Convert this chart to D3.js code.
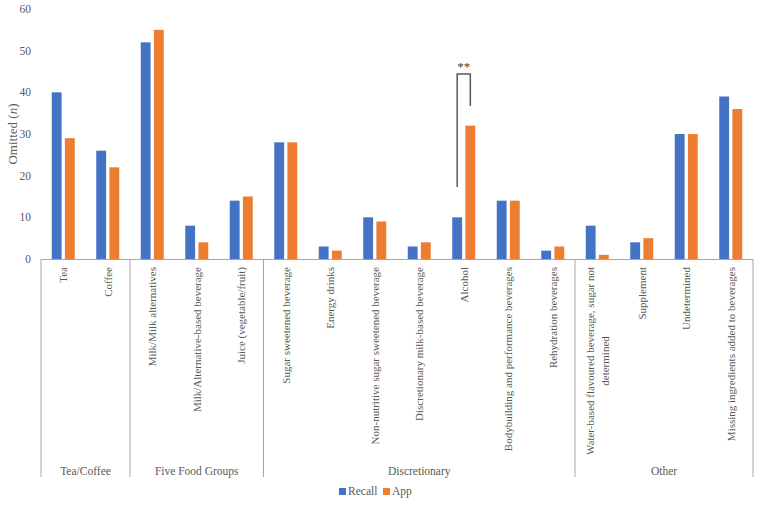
<!DOCTYPE html>
<html><head><meta charset="utf-8">
<script src="https://cdn.jsdelivr.net/npm/d3@7"></script>
<style>body{margin:0;background:#fff}svg{display:block}</style>
</head><body>
<svg id="c" width="762" height="505"></svg>
<script>
const categories = ["Tea","Coffee","Milk/Milk alternatives","Milk/Alternative-based beverage","Juice (vegetable/fruit)","Sugar sweetened beverage","Energy drinks","Non-nutritive sugar sweetened beverage","Discretionary milk-based beverage","Alcohol","Bodybuilding and performance beverages","Rehydration beverages","Water-based flavoured beverage, sugar not determined","Supplement","Undetermined","Missing ingredients added to beverages"];
const groups = ["Tea/Coffee","Tea/Coffee","Five Food Groups","Five Food Groups","Five Food Groups","Discretionary","Discretionary","Discretionary","Discretionary","Discretionary","Discretionary","Discretionary","Other","Other","Other","Other"];
const recall = [40,26,52,8,14,28,3,10,3,10,14,2,8,4,30,39];
const app = [29,22,55,4,15,28,2,9,4,32,14,3,1,5,30,36];
const seriesNames = ["Recall","App"];
const yTicks = [0,10,20,30,40,50,60];
// significance bracket (Alcohol): left foot, top, right foot in data units
const sigCategory = "Alcohol";
const sigLeft = 17.3, sigTop = 44.4, sigRight = 36.7, sigLabel = "**";

const colors = ["#4472C4","#ED7D31"];
const font = "'Liberation Serif', serif";
const svg = d3.select("#c");
const L = 41, R = 753, T = 9, B = 259;
const x = d3.scaleBand().domain(categories).range([L, R]);
const y = d3.scaleLinear().domain([0,60]).range([B, T]);
const xs = d3.scaleBand().domain(seriesNames).range([0, 23]).paddingInner(0.25);
const off = (x.bandwidth() - 23) / 2;

// y ticks
svg.append("g").selectAll("text").data(yTicks).join("text")
  .attr("x", 31).attr("y", d => y(d)).attr("dy", "0.35em")
  .attr("text-anchor", "end").attr("font-family", font).attr("font-size", 11.5)
  .attr("fill", "#595959").text(d => d);

// axis title
const at = svg.append("text").attr("transform", `translate(17,${(T+B)/2}) rotate(-90)`)
  .attr("text-anchor", "middle").attr("font-family", font).attr("font-size", 13).attr("fill", "#595959");
at.append("tspan").text("Omitted (");
at.append("tspan").attr("font-style", "italic").text("n");
at.append("tspan").text(")");

// bars
const vals = [recall, app];
seriesNames.forEach((s, si) => {
  svg.append("g").selectAll("rect").data(categories).join("rect")
    .attr("x", d => x(d) + off + xs(s)).attr("width", xs.bandwidth())
    .attr("y", (d, i) => y(vals[si][i])).attr("height", (d, i) => y(0) - y(vals[si][i]))
    .attr("fill", colors[si]);
});

// axis line
svg.append("line").attr("x1", L).attr("x2", R).attr("y1", B + 0.5).attr("y2", B + 0.5)
  .attr("stroke", "#A6A6A6").attr("stroke-width", 1);

// group dividers
const bottom = 477;
const boundaries = [0];
groups.forEach((g, i) => { if (i > 0 && g !== groups[i-1]) boundaries.push(i); });
boundaries.push(categories.length);
svg.append("g").selectAll("line").data(boundaries).join("line")
  .attr("x1", i => i < categories.length ? x(categories[i]) : R)
  .attr("x2", i => i < categories.length ? x(categories[i]) : R)
  .attr("y1", B).attr("y2", bottom).attr("stroke", "#A6A6A6").attr("stroke-width", 1);

// group labels
const groupNames = [...new Set(groups)];
svg.append("g").selectAll("text").data(groupNames).join("text")
  .attr("x", g => {
    const idx = groups.map((d,i)=>d===g?i:-1).filter(i=>i>=0);
    return (x(categories[idx[0]]) + x(categories[idx[idx.length-1]]) + x.bandwidth()) / 2;
  })
  .attr("y", 475).attr("text-anchor", "middle").attr("font-family", font)
  .attr("font-size", 11.5).attr("fill", "#595959").text(g => g);

// category labels
const wrap = {"Water-based flavoured beverage, sugar not determined": ["Water-based flavoured beverage, sugar not", "determined"]};
categories.forEach(c => {
  const lines = wrap[c] || [c];
  const cx = x(c) + x.bandwidth() / 2;
  const t = svg.append("text").attr("transform", `translate(${cx},267) rotate(-90)`)
    .attr("font-family", font).attr("font-size", 11).attr("fill", "#595959");
  if (lines.length > 1) {
    t.attr("text-anchor", "middle");
    const spans = lines.map((ln, k) => t.append("tspan").attr("y", (k - (lines.length-1)/2) * 15 + 4).text(ln));
    const w = spans[0].node().getComputedTextLength();
    spans.forEach(s => s.attr("x", -w/2));
  } else {
    t.attr("text-anchor", "end");
    t.append("tspan").attr("x", 0).attr("y", 4).text(c);
  }
});

// significance bracket
const sx0 = x(sigCategory) + off + xs("Recall") + xs.bandwidth()/2;
const sx1 = x(sigCategory) + off + xs("App") + xs.bandwidth()/2;
svg.append("path").attr("d", `M${sx0},${y(sigLeft)}V${y(sigTop)}H${sx1}V${y(sigRight)}`)
  .attr("fill", "none").attr("stroke", "#595959").attr("stroke-width", 1.5);
svg.append("text").attr("x", (sx0+sx1)/2).attr("y", y(sigTop) - 3).attr("text-anchor", "middle")
  .attr("font-family", font).attr("font-size", 13).attr("fill", "#404040").text(sigLabel);

// legend
const leg = svg.append("g");
[[345, 0], [389, 1]].forEach(([lx, si]) => {
  leg.append("rect").attr("x", lx - 6).attr("y", 488).attr("width", 7).attr("height", 7).attr("fill", colors[si]);
  leg.append("text").attr("x", lx + 3).attr("y", 495).attr("font-family", font).attr("font-size", 11.5)
    .attr("fill", "#595959").text(seriesNames[si]);
});
</script>
</body></html>
